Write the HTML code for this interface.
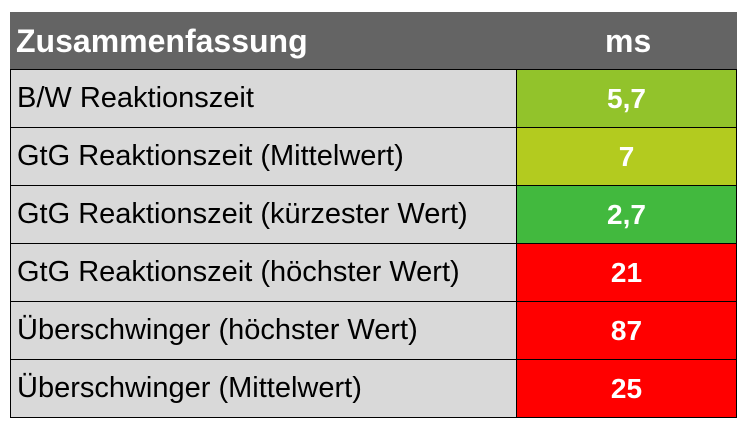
<!DOCTYPE html>
<html><head><style>
body{margin:0;background:#fff;width:749px;height:428px;overflow:hidden;font-family:"Liberation Sans",sans-serif}
.t{position:absolute;left:10px;top:12px;width:727px}
.h{height:57px;background:#646464;color:#fff;font-weight:bold;font-size:32px;position:relative;border-bottom:1px solid #000}
.h span{position:absolute;top:11px}
.r{height:57px;border:1px solid #000;border-top:none;background:#d9d9d9;position:relative}
.l{position:absolute;left:6px;top:12px;font-size:29px;color:#000;letter-spacing:0px;white-space:nowrap}
.v{position:absolute;left:505px;top:0;right:0;height:57px;border-left:1px solid #000;color:#fff;font-weight:bold;font-size:28px;text-align:center;line-height:57px}
</style></head><body>
<div class="t">
<div class="h"><span style="left:6px">Zusammenfassung</span><span style="left:595px">ms</span></div>
<div class="r"><div class="l">B/W Reaktionszeit</div><div class="v" style="background:#92c32b">5,7</div></div>
<div class="r"><div class="l">GtG Reaktionszeit (Mittelwert)</div><div class="v" style="background:#b3cb1f">7</div></div>
<div class="r"><div class="l">GtG Reaktionszeit (kürzester Wert)</div><div class="v" style="background:#42b93e">2,7</div></div>
<div class="r"><div class="l">GtG Reaktionszeit (höchster Wert)</div><div class="v" style="background:#ff0000">21</div></div>
<div class="r"><div class="l">Überschwinger (höchster Wert)</div><div class="v" style="background:#ff0000">87</div></div>
<div class="r"><div class="l">Überschwinger (Mittelwert)</div><div class="v" style="background:#ff0000">25</div></div>
</div>
</body></html>
